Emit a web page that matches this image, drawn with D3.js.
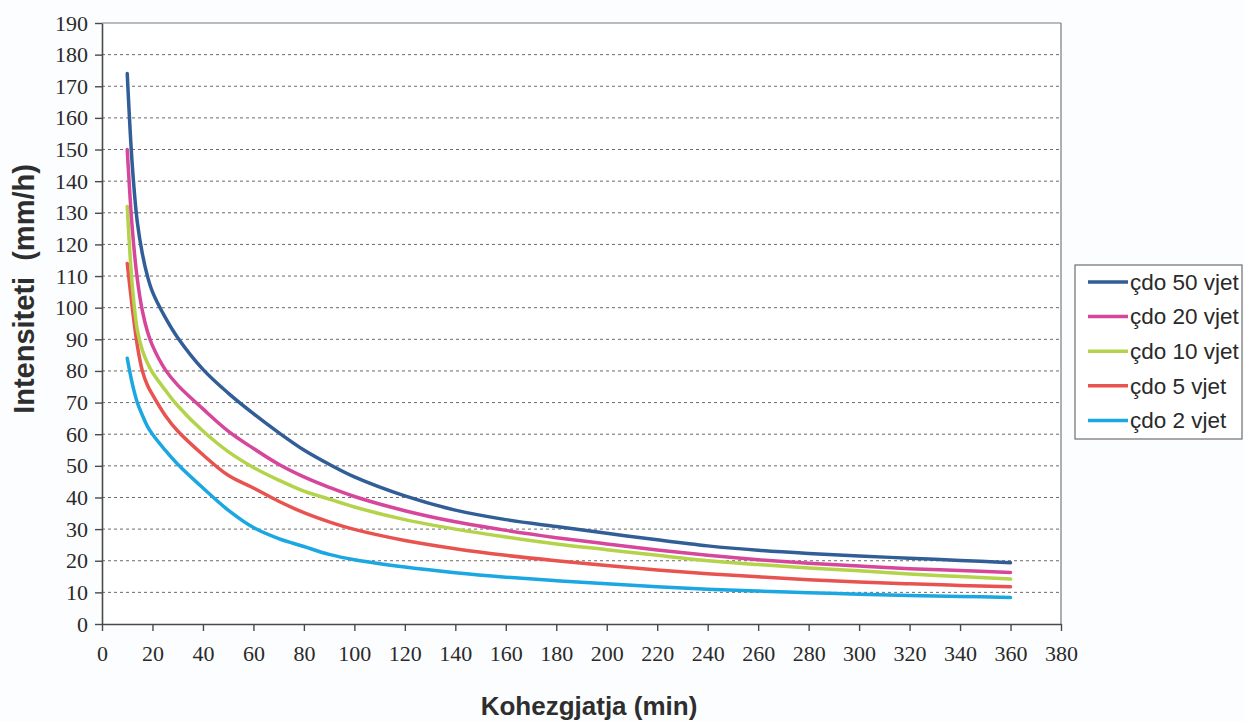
<!DOCTYPE html>
<html>
<head>
<meta charset="utf-8">
<script src="https://cdn.jsdelivr.net/npm/d3@7"></script>
<style>
  html, body { margin: 0; padding: 0; background: #fcfdfe; }
  svg { display: block; }
</style>
</head>
<body>
<svg id="chart" width="1244" height="722"></svg>
<script>
// ---- Data ----
const durations = [10,12,14,16,18,20,25,30,40,50,60,70,80,90,100,120,140,160,180,200,220,240,260,280,300,320,340,360];
const seriesNames = ["çdo 50 vjet","çdo 20 vjet","çdo 10 vjet","çdo 5 vjet","çdo 2 vjet"];
const values50 = [174,145,127,117,110,105,97,90.5,80.5,73,66.5,60.5,55,50.5,46.5,40.5,36,33,30.8,28.7,26.6,24.7,23.3,22.3,21.5,20.8,20.1,19.4];
const values20 = [150,125,109,99,92.5,88,80.5,75.5,68,61,55.5,50.5,46.5,43.2,40.3,35.8,32.3,29.6,27.3,25.3,23.4,21.7,20.3,19.2,18.3,17.5,16.9,16.3];
const values10 = [132,107,93,86.5,82.5,79.5,74,69,61,54.5,49.5,45.5,42,39.5,37,33,30,27.5,25.3,23.5,21.7,20,18.8,17.7,16.8,15.8,15,14.2];
const values5  = [114,100,88,80,75.5,72.5,66,61,53.5,47,43,38.8,35.2,32.3,29.9,26.4,23.8,21.7,20,18.5,17.1,15.9,14.9,14,13.3,12.7,12.2,11.8];
const values2  = [84,76,70,66,62.5,60,55,50.5,43,36,30.5,27,24.5,22,20.3,18,16.2,14.8,13.7,12.7,11.8,11,10.4,9.9,9.4,9.0,8.7,8.4];
const seriesColors = ["#315e96","#d6469b","#b3d34a","#e8534f","#1ba7e1"];
const xTicks = d3.range(0, 381, 20);
const yTicks = d3.range(0, 191, 10);
const xTitle = "Kohezgjatja (min)";
const yTitle = "Intensiteti\u00a0\u00a0(mm/h)";

const allSeries = [values50, values20, values10, values5, values2];

// ---- Scales ----
const x = d3.scaleLinear().domain([0, 380]).range([102, 1061]);
const y = d3.scaleLinear().domain([0, 190]).range([624, 23]);

const svg = d3.select("#chart");

// Plot area background
svg.append("rect").attr("x", x(0)).attr("y", y(190))
  .attr("width", x(380) - x(0)).attr("height", y(0) - y(190))
  .attr("fill", "#ffffff");

// Gridlines
svg.append("g").selectAll("line")
  .data(yTicks.filter(t => t > 0 && t < 190))
  .join("line")
  .attr("x1", x(0)).attr("x2", x(380))
  .attr("y1", d => y(d)).attr("y2", d => y(d))
  .attr("stroke", "#6a6a6a").attr("stroke-width", 1)
  .attr("stroke-dasharray", "3,3");

// Top and right border
svg.append("line").attr("x1", x(0)).attr("x2", x(380)).attr("y1", y(190)).attr("y2", y(190))
  .attr("stroke", "#7a7a7a").attr("stroke-width", 1.2);
svg.append("line").attr("x1", x(380)).attr("x2", x(380)).attr("y1", y(190)).attr("y2", y(0))
  .attr("stroke", "#7a7a7a").attr("stroke-width", 1.2);

// Axes
const xAxis = d3.axisBottom(x).tickValues(xTicks).tickSize(7).tickPadding(14).tickSizeOuter(0);
const yAxis = d3.axisLeft(y).tickValues(yTicks).tickSize(7).tickPadding(7).tickSizeOuter(0);

const gx = svg.append("g").attr("transform", `translate(0,${y(0)})`).call(xAxis);
const gy = svg.append("g").attr("transform", `translate(${x(0)},0)`).call(yAxis);

[gx, gy].forEach(g => {
  g.attr("font-family", "Liberation Serif").attr("font-size", 22);
  g.select(".domain").attr("stroke", "#4a4a4a").attr("stroke-width", 1.6);
  g.selectAll(".tick line").attr("stroke", "#4a4a4a").attr("stroke-width", 1.4);
  g.selectAll(".tick text").attr("fill", "#2a2a2a");
});

// Lines
const line = d3.line()
  .x((d, i) => x(durations[i]))
  .y(d => y(d))
  .curve(d3.curveCatmullRom.alpha(0.5));

svg.append("g").selectAll("path")
  .data(allSeries.map((v, i) => ({ v, i })).reverse())
  .join("path")
  .attr("d", d => line(d.v))
  .attr("fill", "none")
  .attr("stroke", d => seriesColors[d.i])
  .attr("stroke-width", 3.5)
  .attr("stroke-linecap", "round")
  .attr("stroke-linejoin", "round");

// Axis titles
svg.append("text")
  .attr("x", 589).attr("y", 715)
  .attr("text-anchor", "middle")
  .attr("font-family", "Liberation Sans")
  .attr("font-weight", "bold").attr("font-size", 26).attr("fill", "#2e2e2e")
  .text(xTitle);

svg.append("text")
  .attr("transform", "translate(34,289) rotate(-90)")
  .attr("text-anchor", "middle")
  .attr("font-family", "Liberation Sans")
  .attr("font-weight", "bold").attr("font-size", 29).attr("fill", "#2e2e2e")
  .text(yTitle);

// Legend
const legend = svg.append("g");
legend.append("rect").attr("x", 1075).attr("y", 265).attr("width", 167).attr("height", 174)
  .attr("fill", "#ffffff").attr("stroke", "#6e6e6e").attr("stroke-width", 1.2);
const rows = legend.selectAll("g.row").data(seriesNames).join("g")
  .attr("class", "row")
  .attr("transform", (d, i) => `translate(0,${282 + i * 34.6})`);
rows.append("line").attr("x1", 1088).attr("x2", 1128).attr("y1", 0).attr("y2", 0)
  .attr("stroke", (d, i) => seriesColors[i]).attr("stroke-width", 3.5);
rows.append("text").attr("x", 1130).attr("y", 0).attr("dy", "0.35em")
  .attr("font-family", "Liberation Sans")
  .attr("font-size", 22.5).attr("fill", "#2a2a2a")
  .text(d => d);
</script>
</body>
</html>
